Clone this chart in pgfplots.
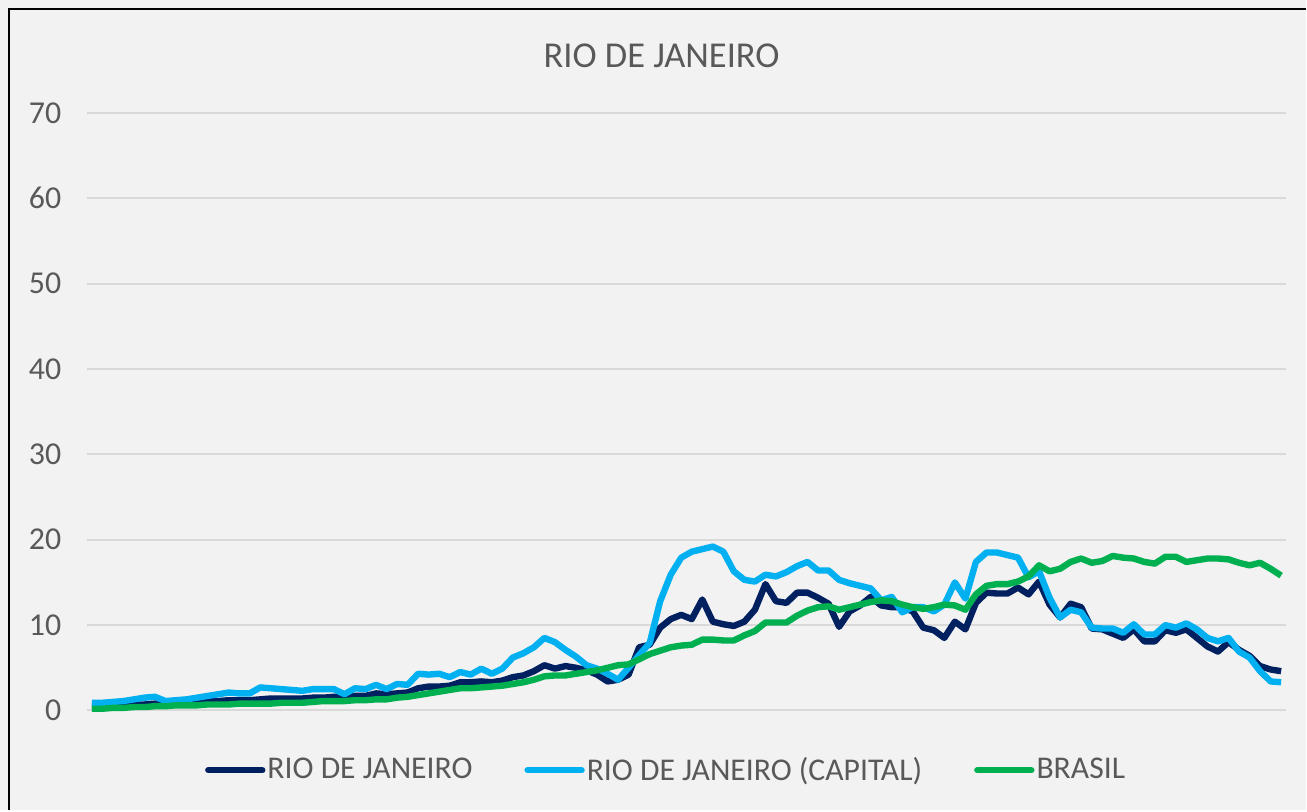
\documentclass[border=0pt]{standalone}
\usepackage{fontspec}
\setmainfont{Carlito}
\usepackage{pgfplots}
\pgfplotsset{compat=1.18}
\usepackage{pgfplotstable}
\definecolor{rjnavy}{HTML}{002060}
\definecolor{rjcap}{HTML}{00B0F0}
\definecolor{rjbr}{HTML}{00B050}
\definecolor{bgc}{HTML}{F2F2F2}
\definecolor{gridc}{HTML}{D9D9D9}
\definecolor{textgray}{HTML}{595959}
\pgfplotstableread{
i rj cap br
0 0.5 0.9 0.2
1 0.5 0.9 0.2
2 0.6 1.0 0.3
3 0.6 1.1 0.3
4 0.7 1.3 0.4
5 0.7 1.5 0.4
6 0.8 1.6 0.5
7 0.8 1.1 0.5
8 0.9 1.2 0.6
9 0.9 1.3 0.6
10 1.0 1.5 0.6
11 1.1 1.7 0.7
12 1.1 1.9 0.7
13 1.2 2.1 0.7
14 1.2 2.0 0.8
15 1.2 2.0 0.8
16 1.3 2.7 0.8
17 1.4 2.6 0.8
18 1.4 2.5 0.9
19 1.4 2.4 0.9
20 1.4 2.3 0.9
21 1.5 2.5 1.0
22 1.5 2.5 1.1
23 1.6 2.5 1.1
24 1.5 1.9 1.1
25 1.7 2.6 1.2
26 1.7 2.5 1.2
27 2.0 3.0 1.3
28 1.9 2.5 1.3
29 2.0 3.1 1.5
30 2.1 3.0 1.6
31 2.6 4.3 1.8
32 2.8 4.2 2.0
33 2.8 4.3 2.2
34 2.9 3.9 2.4
35 3.3 4.5 2.6
36 3.3 4.2 2.6
37 3.4 4.9 2.7
38 3.3 4.3 2.8
39 3.5 4.9 2.9
40 3.9 6.2 3.1
41 4.1 6.7 3.3
42 4.6 7.4 3.6
43 5.3 8.5 4.0
44 4.9 8.0 4.1
45 5.2 7.1 4.1
46 5.0 6.3 4.3
47 4.7 5.3 4.5
48 4.2 4.9 4.7
49 3.4 4.3 5.0
50 3.6 3.6 5.3
51 4.2 5.0 5.4
52 7.4 6.5 6.0
53 7.7 7.9 6.6
54 9.7 12.8 7.0
55 10.7 15.9 7.4
56 11.2 17.9 7.6
57 10.7 18.6 7.7
58 13.0 18.9 8.3
59 10.4 19.2 8.3
60 10.1 18.6 8.2
61 9.9 16.3 8.2
62 10.4 15.3 8.8
63 11.8 15.1 9.3
64 14.8 15.9 10.3
65 12.8 15.7 10.3
66 12.6 16.2 10.3
67 13.8 16.9 11.1
68 13.8 17.4 11.7
69 13.2 16.4 12.1
70 12.5 16.4 12.2
71 9.8 15.3 11.8
72 11.6 14.9 12.1
73 12.3 14.6 12.4
74 13.3 14.3 12.7
75 12.3 12.9 12.9
76 12.1 13.3 12.8
77 12.1 11.5 12.4
78 11.6 12.1 12.1
79 9.7 12.1 11.9
80 9.4 11.6 12.1
81 8.5 12.4 12.4
82 10.4 15.0 12.3
83 9.5 13.1 11.8
84 12.6 17.4 13.6
85 13.8 18.5 14.6
86 13.7 18.5 14.8
87 13.7 18.2 14.8
88 14.4 17.9 15.1
89 13.6 15.6 15.7
90 15.1 16.3 17.0
91 12.4 13.2 16.3
92 10.9 10.9 16.6
93 12.5 11.8 17.4
94 12.1 11.5 17.8
95 9.6 9.7 17.3
96 9.5 9.6 17.5
97 9.0 9.6 18.1
98 8.5 9.1 17.9
99 9.5 10.1 17.8
100 8.1 8.9 17.4
101 8.1 8.9 17.2
102 9.4 10.0 18.0
103 9.1 9.7 18.0
104 9.5 10.2 17.4
105 8.5 9.5 17.6
106 7.5 8.5 17.8
107 6.9 8.1 17.8
108 8.0 8.5 17.7
109 7.1 6.9 17.3
110 6.4 6.2 17.0
111 5.2 4.6 17.3
112 4.8 3.4 16.6
113 4.6 3.3 15.8
}\datatable
\begin{document}
\begin{tikzpicture}[x=0.5bp,y=0.5bp]
\fill[bgc] (0,0) rectangle (1307,811);
\draw[black, line width=1bp] (9,0) -- (9,802) -- (1307,802);
\node[text=textgray, anchor=base, font=\fontsize{18.3}{22}\selectfont] at (662,743) {RIO DE JANEIRO};
\begin{axis}[
  at={(43.35bp,50bp)}, anchor=south west,
  scale only axis, width=600.3bp, height=299bp,
  xmin=-0.5, xmax=113.5, ymin=0, ymax=70,
  axis line style={draw=none},
  xtick=\empty,
  ytick={0,10,...,70},
  ymajorgrids, grid style={gridc, line width=1bp},
  major tick length=0pt,
  /pgf/number format/assume math mode=true,
  yticklabel style={anchor=east, inner sep=0pt, xshift=-12.5bp, text=textgray, font=\fontsize{16}{19}\selectfont},
  clip=false,
  legend columns=3,
  legend style={at={(0.483,-0.1)}, anchor=center, draw=none, fill=none,
    text=textgray, font=\fontsize{15.9}{19}\selectfont,
    /tikz/every even column/.append style={column sep=25bp},
    nodes={inner sep=1bp}},
  legend image code/.code={\draw[#1, line width=3.2bp, line cap=round] (0bp,0bp) -- (27bp,0bp);},
  every axis plot/.append style={line width=3.2bp, line join=round, mark=none},
]
\addplot[rjnavy] table[x=i, y=rj] {\datatable};
\addlegendentry{RIO DE JANEIRO}
\addplot[rjcap] table[x=i, y=cap] {\datatable};
\addlegendentry{RIO DE JANEIRO (CAPITAL)}
\addplot[rjbr] table[x=i, y=br] {\datatable};
\addlegendentry{BRASIL}
\end{axis}
\end{tikzpicture}
\end{document}
